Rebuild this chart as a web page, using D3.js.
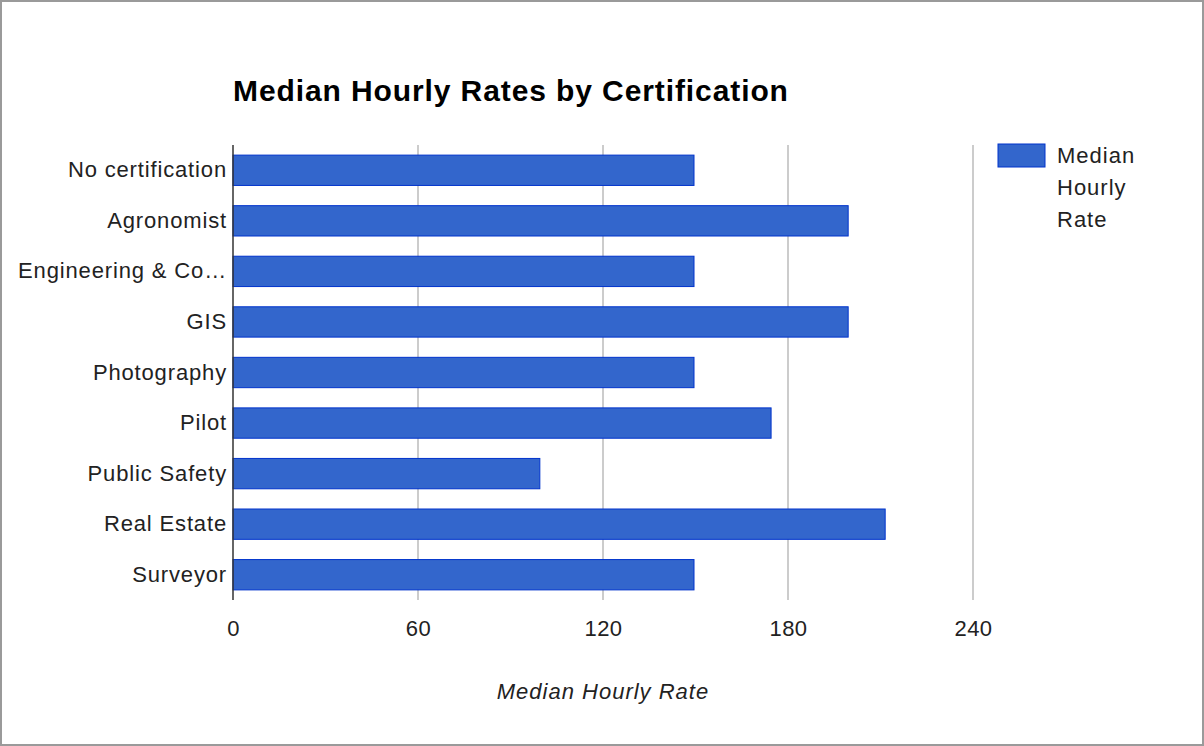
<!DOCTYPE html>
<html><head><meta charset="utf-8">
<script src="https://cdn.jsdelivr.net/npm/d3@7"></script>
<style>html,body{margin:0;padding:0;background:#fff;}svg{display:block;}</style>
</head><body>
<script>
const categories = ["No certification","Agronomist","Engineering & Co…","GIS","Photography","Pilot","Public Safety","Real Estate","Surveyor"];
const values = [150,200,150,200,150,175,100,212,150];
const xTicks = [0,60,120,180,240];
const seriesName = "Median Hourly Rate";
const legendLines = ["Median","Hourly","Rate"];
const title = "Median Hourly Rates by Certification";

const W=1204,H=746;
const svg=d3.select("body").append("svg").attr("width",W).attr("height",H);
svg.append("rect").attr("x",1).attr("y",1).attr("width",W-2).attr("height",H-2)
  .attr("fill","#fff").attr("stroke","#9a9a9a").attr("stroke-width",2);

const m={left:233,right:973,top:145,bottom:600};
const x=d3.scaleLinear().domain([0,240]).range([m.left,m.right]);
const y=d3.scaleBand().domain(categories).range([m.top,m.bottom]).paddingInner(0.4).paddingOuter(0.2);

const font="Liberation Sans, Arial, sans-serif";

// gridlines
svg.append("g").selectAll("line").data(xTicks.filter(d=>d>0)).join("line")
  .attr("x1",d=>x(d)).attr("x2",d=>x(d)).attr("y1",m.top).attr("y2",m.bottom)
  .attr("stroke","#cccccc").attr("stroke-width",2);

// bars
svg.append("g").selectAll("rect").data(categories).join("rect")
  .attr("x",x(0)).attr("y",d=>y(d))
  .attr("width",(d,i)=>x(values[i])-x(0)-1.5).attr("height",y.bandwidth())
  .attr("fill","#3366cc").attr("stroke","#0033cc").attr("stroke-width",1);

// baseline axis
svg.append("line").attr("x1",m.left).attr("x2",m.left).attr("y1",m.top).attr("y2",m.bottom)
  .attr("stroke","#333").attr("stroke-width",1.5);

// y labels
const ya=d3.axisLeft(y).tickSize(0).tickPadding(6);
const gy=svg.append("g").attr("transform",`translate(${m.left},0)`).call(ya);
gy.select(".domain").remove();
gy.selectAll("text").attr("font-family",font).attr("font-size",22).attr("letter-spacing",0.85).attr("fill","#222");

// x labels
const xa=d3.axisBottom(x).tickValues(xTicks).tickSize(0).tickPadding(20).tickFormat(d3.format("d"));
const gx=svg.append("g").attr("transform",`translate(0,${m.bottom})`).call(xa);
gx.select(".domain").remove();
gx.selectAll("text").attr("font-family",font).attr("font-size",22).attr("letter-spacing",0.5).attr("fill","#222");

// axis title
svg.append("text").attr("x",(m.left+m.right)/2).attr("y",699).attr("text-anchor","middle")
  .attr("font-family",font).attr("font-size",22).attr("letter-spacing",1).attr("font-style","italic").attr("fill","#222").text(seriesName);

// title
svg.append("text").attr("x",233).attr("y",101).attr("font-family",font).attr("font-size",30)
  .attr("letter-spacing",0.9).attr("font-weight","bold").attr("fill","#000").text(title);

// legend
svg.append("rect").attr("x",998).attr("y",144).attr("width",47).attr("height",23)
  .attr("fill","#3366cc").attr("stroke","#0033cc").attr("stroke-width",1);
svg.append("g").selectAll("text").data(legendLines).join("text")
  .attr("x",1057).attr("y",(d,i)=>163+i*32).attr("font-family",font).attr("font-size",22)
  .attr("letter-spacing",1).attr("fill","#222").text(d=>d);
</script>
</body></html>
